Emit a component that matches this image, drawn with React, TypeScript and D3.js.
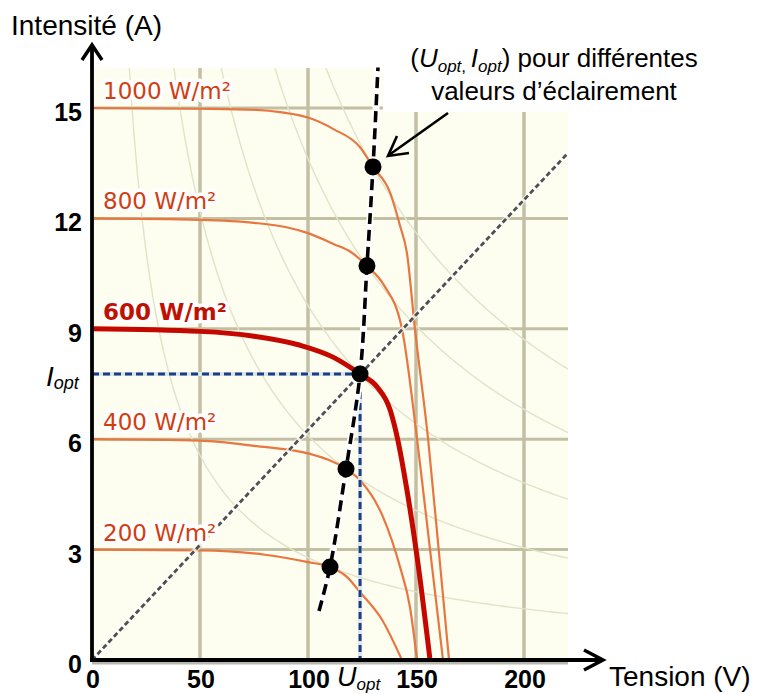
import React from "react";
import * as d3 from "d3";

// I-V curves of the panel (V in volts, I in amps)
const irradiances = [200, 400, 600, 800, 1000];
const ivVoltage200 = [0, 50, 80, 100, 110.2, 118, 124, 134, 143.5];
const ivCurrent200 = [3, 2.98, 2.86, 2.66, 2.53, 2.26, 1.85, 1.12, 0];
const ivVoltage400 = [0, 50, 75, 101, 117.6, 124, 134.7, 142.6, 147.2, 150.5];
const ivCurrent400 = [6, 5.96, 5.82, 5.6, 5.19, 4.89, 3.89, 2.53, 1.44, 0];
const ivVoltage600 = [0, 50, 75, 96, 111.6, 124.1, 132, 138, 141.5, 145.8, 150.5, 156.5];
const ivCurrent600 = [9, 8.93, 8.8, 8.56, 8.23, 7.77, 7.42, 6.8, 6.0, 4.62, 2.8, 0];
const ivVoltage800 = [0, 50, 75, 90, 100, 112, 120, 127.3, 135, 143.5, 150.5, 156.5, 162.5];
const ivCurrent800 = [12, 11.96, 11.88, 11.76, 11.6, 11.3, 11.08, 10.71, 10.2, 9.0, 6.0, 3.0, 0];
const ivVoltage1000 = [0, 50, 76, 88, 100, 112, 124, 130.1, 138, 142.6, 145.8, 149.5, 155.6, 160.5, 165.3];
const ivCurrent1000 = [15, 14.98, 14.95, 14.88, 14.74, 14.42, 13.94, 13.4, 12.7, 11.8, 11.06, 9.0, 6.0, 3.0, 0];

// maximum power points
const mppVoltage = [110.2, 117.6, 124.1, 127.3, 130.1];
const mppCurrent = [2.53, 5.19, 7.77, 10.71, 13.4];
// ends of the dashed line through the MPPs
const locusStart = [105.1, 1.33];
const locusEnd = [132.4, 16.1];

// resistive load line through the 600 W/m2 point
const loadVoltage = [0, 220.4];
const loadCurrent = [0, 13.78];

// constant power curves (W)
const isoPower = [278, 610, 963, 1362, 1742];

const xTicks = [0, 50, 100, 150, 200];
const yTicks = [0, 3, 6, 9, 12, 15];

const ivData = [
  [ivVoltage200, ivCurrent200],
  [ivVoltage400, ivCurrent400],
  [ivVoltage600, ivCurrent600],
  [ivVoltage800, ivCurrent800],
  [ivVoltage1000, ivCurrent1000],
];

const W = 761, H = 694;
const x = d3.scaleLinear().domain([0, 200]).range([92, 524]);
const y = d3.scaleLinear().domain([0, 15]).range([660, 108]);
const vMax = x.invert(568);
const iMax = y.invert(68);

const ARIAL = "'Liberation Sans', Arial, sans-serif";
const LABEL_FONT = "'DejaVu Sans', Verdana, sans-serif";

export default function App() {
  const ivLine = d3
    .line<number[]>()
    .x((d) => x(d[0]))
    .y((d) => y(d[1]))
    .curve(d3.curveMonotoneX);

  const smoothLine = d3
    .line<number[]>()
    .x((d) => x(d[0]))
    .y((d) => y(d[1]))
    .curve(d3.curveCatmullRom);

  const straight = d3
    .line<number[]>()
    .x((d) => x(d[0]))
    .y((d) => y(d[1]));

  const hyperbola = (p: number) => {
    const pts: number[][] = [];
    const v0 = p / iMax;
    for (let v = v0; v <= vMax + 2; v += 1) pts.push([v, p / v]);
    return straight(pts) || "";
  };

  const locusPts = [locusStart, ...mppVoltage.map((v, i) => [v, mppCurrent[i]]), locusEnd];
  const uOpt = mppVoltage[2];
  const iOpt = mppCurrent[2];
  const loadPts = loadVoltage.map((v, i) => [v, loadCurrent[i]]);

  return (
    <svg width={W} height={H} style={{ position: "absolute", left: 0, top: 0 }}>
      <defs>
        <clipPath id="plot">
          <rect x={92} y={68} width={568 - 92} height={660 - 68} />
        </clipPath>
      </defs>
      <rect width={W} height={H} fill="#ffffff" />
      {/* plot background */}
      <rect x={92} y={68} width={568 - 92} height={660 - 68} fill="#fdfdf0" />

      {/* grid */}
      <g stroke="#c3bfa4">
        {xTicks.filter((t) => t > 0).map((t) => (
          <line key={"gx" + t} x1={x(t)} x2={x(t)} y1={68} y2={660} strokeWidth={3.5} />
        ))}
        {yTicks.filter((t) => t > 0).map((t) => (
          <line key={"gy" + t} x1={92} x2={568} y1={y(t)} y2={y(t)} strokeWidth={3} />
        ))}
      </g>
      <line x1={92} x2={568} y1={663} y2={663} stroke="#b8b8b0" strokeWidth={3} />

      {/* white box behind annotation */}
      <rect x={383} y={60} width={200} height={52} fill="#ffffff" />

      <g clipPath="url(#plot)">
        {/* iso-power curves */}
        {isoPower.map((p) => (
          <path key={"p" + p} d={hyperbola(p)} fill="none" stroke="#e0e4c8" strokeWidth={1.4} />
        ))}

        {/* I-V curves */}
        {ivData.map(([vs, is], k) => {
          const pts = vs.map((v, i) => [v, is[i]]);
          const main = irradiances[k] === 600;
          return (
            <path
              key={"iv" + k}
              d={ivLine(pts) || ""}
              fill="none"
              stroke={main ? "#c40800" : "#e8763f"}
              strokeWidth={main ? 5 : 2.2}
            />
          );
        })}

        {/* load line */}
        <path d={straight(loadPts) || ""} stroke="#ffffff" strokeOpacity={0.7} strokeWidth={5} fill="none" />
        <path d={straight(loadPts) || ""} stroke="#505050" strokeWidth={2.8} strokeDasharray="5 3" fill="none" />

        {/* optimum guides */}
        <g fill="none">
          <path d={`M${x(0)},${y(iOpt)}H${x(uOpt)}V${y(0)}`} stroke="#dde4ea" strokeWidth={4} />
          <path
            d={`M${x(0)},${y(iOpt)}H${x(uOpt)}V${y(0)}`}
            stroke="#1b3f86"
            strokeWidth={3}
            strokeDasharray="7 4"
          />
        </g>
      </g>

      {/* irradiance labels */}
      {irradiances.map((g, k) => {
        const main = g === 600;
        const isc = ivData[k][1][0];
        return (
          <text
            key={"l" + g}
            x={103}
            y={y(isc) - 9}
            fontFamily={LABEL_FONT}
            fontSize={23}
            fontWeight={main ? "bold" : "normal"}
            fill={main ? "#c01000" : "#d23c10"}
            stroke="#ffffff"
            strokeWidth={7}
            strokeLinejoin="round"
            style={{ paintOrder: "stroke" }}
          >
            {g} W/m²
          </text>
        );
      })}

      {/* MPP locus */}
      <path d={smoothLine(locusPts) || ""} fill="none" stroke="#ffffff" strokeWidth={7} />
      <path
        d={smoothLine(locusPts) || ""}
        fill="none"
        stroke="#000000"
        strokeWidth={3.6}
        strokeDasharray="11 6"
      />
      {mppVoltage.map((v, i) => (
        <circle key={"m" + i} cx={x(v)} cy={y(mppCurrent[i])} r={8.5} fill="#000000" />
      ))}

      {/* axes */}
      <g stroke="#000000" strokeWidth={3.8} fill="none" strokeLinecap="butt">
        <line x1={92} y1={662} x2={92} y2={47} />
        <polyline points="82,60 92,45 102,60" strokeWidth={3.5} strokeLinejoin="miter" />
        <line x1={90} y1={660} x2={601} y2={660} />
        <polyline points="584,650 603,660 584,670" strokeWidth={3.5} strokeLinejoin="miter" />
      </g>

      {/* tick labels */}
      <g fontFamily={ARIAL} fontSize={25} fontWeight="bold" fill="#000000">
        {yTicks.map((t) => (
          <text key={"yt" + t} x={82} y={y(t) + 13} textAnchor="end">
            {t}
          </text>
        ))}
        {xTicks.map((t) => (
          <text key={"xt" + t} x={x(t) + 1} y={688} textAnchor="middle">
            {t}
          </text>
        ))}
      </g>

      {/* axis titles */}
      <text x={11} y={35} fontFamily={ARIAL} fontSize={28} fill="#000000">
        Intensité (A)
      </text>
      <text x={609} y={686} fontFamily={ARIAL} fontSize={28} fill="#000000">
        Tension (V)
      </text>

      {/* U_opt, I_opt labels */}
      <text x={337} y={686} fontFamily={ARIAL} fontSize={27} fontStyle="italic" fill="#000000">
        U
        <tspan fontSize={17} dy={4}>opt</tspan>
      </text>
      <text x={46} y={386} fontFamily={ARIAL} fontSize={28} fontStyle="italic" fill="#000000">
        I
        <tspan fontSize={18} dy={3}>opt</tspan>
      </text>

      {/* annotation */}
      <g fontFamily={ARIAL} fontSize={26} fill="#000000">
        <text x={554} y={67} textAnchor="middle">
          (<tspan fontStyle="italic">U</tspan>
          <tspan fontStyle="italic" fontSize={17} dy={5}>opt</tspan>
          <tspan fontSize={17}>, </tspan>
          <tspan fontStyle="italic" dy={-5}>I</tspan>
          <tspan fontStyle="italic" fontSize={17} dy={5}>opt</tspan>
          <tspan dy={-5}>) pour différentes</tspan>
        </text>
        <text x={554} y={100} textAnchor="middle">
          valeurs d’éclairement
        </text>
      </g>
      <g stroke="#000000" strokeWidth={2.6} fill="none">
        <line x1={448} y1={113} x2={389} y2={155} />
        <polyline points="397,136 388,156 409,153" strokeLinejoin="miter" />
      </g>
    </svg>
  );
}
